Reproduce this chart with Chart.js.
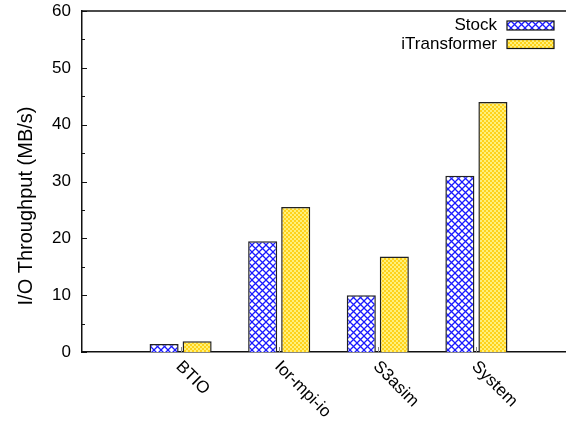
<!DOCTYPE html>
<html>
<head>
<meta charset="utf-8">
<script src="https://cdn.jsdelivr.net/npm/chart.js@4/dist/chart.umd.min.js"></script>
<style>
  html, body { margin: 0; padding: 0; background: #fff; overflow: hidden; width: 566px; height: 422px; }
  #wrap { width: 590px; height: 422px; }
</style>
</head>
<body>
<div id="wrap"><canvas id="c" width="590" height="422"></canvas></div>
<script>
// Benchmarks and measured throughput (MB/s)
const categories = ['BTIO', 'Ior-mpi-io', 'S3asim', 'System'];
const stockValues = [1.4, 19.5, 10.0, 31.0];
const itransformerValues = [1.9, 25.5, 16.8, 44.0];
const seriesNames = ['Stock', 'iTransformer'];
const yTicks = [0, 10, 20, 30, 40, 50, 60];
const yTitle = 'I/O Throughput (MB/s)';

const FAMILY = '"Liberation Sans", Arial, sans-serif';
const FONT = '17px ' + FAMILY;

// Blue cross-hatch fill
function crossHatch() {
  const t = document.createElement('canvas');
  t.width = 7; t.height = 7;
  const g = t.getContext('2d');
  g.fillStyle = '#ffffff';
  g.fillRect(0, 0, 7, 7);
  g.strokeStyle = '#1a1aff';
  g.lineWidth = 1.3;
  g.beginPath();
  g.moveTo(-1, -1); g.lineTo(8, 8);
  g.moveTo(8, -1); g.lineTo(-1, 8);
  g.stroke();
  return g.createPattern(t, 'repeat');
}

// Fine yellow checkerboard fill
function checker() {
  const t = document.createElement('canvas');
  t.width = 4; t.height = 4;
  const g = t.getContext('2d');
  g.fillStyle = '#ffd21a';
  g.fillRect(0, 0, 4, 4);
  g.fillStyle = '#fff07a';
  g.fillRect(0, 0, 2, 2);
  g.fillRect(2, 2, 2, 2);
  return g.createPattern(t, 'repeat');
}

const fills = [crossHatch(), checker()];

const toPoints = vals => vals.map((v, i) => ({ x: i, y: v }));

// Frame, inner ticks, rotated category labels, axis title and legend
const decorations = {
  id: 'decorations',
  afterDraw(chart) {
    const { ctx, chartArea: a, scales } = chart;
    const x = scales.x, y = scales.y;
    ctx.save();

    // top and right sides of the box
    ctx.strokeStyle = '#111';
    ctx.lineWidth = 1.5;
    ctx.beginPath();
    ctx.moveTo(a.left, a.top); ctx.lineTo(a.right, a.top); ctx.lineTo(a.right, a.bottom);
    ctx.stroke();

    // inward y ticks (major every 10, minor every 5)
    ctx.lineWidth = 1;
    for (let v = 0; v <= 60; v += 5) {
      const py = Math.round(y.getPixelForValue(v)) + 0.5;
      const len = v % 10 === 0 ? 5 : 3;
      ctx.beginPath();
      ctx.moveTo(a.left, py); ctx.lineTo(a.left + len, py);
      ctx.moveTo(a.right, py); ctx.lineTo(a.right - len, py);
      ctx.stroke();
    }

    // small category ticks on the baseline
    ctx.strokeStyle = '#888';
    categories.forEach((c, i) => {
      const px = Math.round(x.getPixelForValue(i)) + 0.5;
      ctx.beginPath();
      ctx.moveTo(px, a.bottom); ctx.lineTo(px, a.bottom - 5);
      ctx.stroke();
    });

    // rotated category labels
    ctx.fillStyle = '#000';
    ctx.font = FONT;
    ctx.textAlign = 'left';
    ctx.textBaseline = 'middle';
    categories.forEach((c, i) => {
      const px = x.getPixelForValue(i);
      ctx.save();
      ctx.translate(px - 2, a.bottom + 12);
      ctx.rotate(Math.PI / 4);
      ctx.fillText(c, 0, 0);
      ctx.restore();
    });

    // y axis title
    ctx.save();
    ctx.font = '20px ' + FAMILY;
    ctx.translate(26, 206);
    ctx.rotate(-Math.PI / 2);
    ctx.textAlign = 'center';
    ctx.fillText(yTitle, 0, 0);
    ctx.restore();

    // legend: text right-aligned, swatch on the right
    ctx.font = FONT;
    const rows = [25.5, 44];
    seriesNames.forEach((name, i) => {
      const cy = rows[i];
      ctx.textAlign = 'right';
      ctx.fillStyle = '#000';
      ctx.fillText(name, 497, cy);
      ctx.fillStyle = fills[i];
      ctx.fillRect(507, cy - 4.5, 47, 9);
      ctx.strokeStyle = '#111';
      ctx.lineWidth = 1.2;
      ctx.strokeRect(507, cy - 4.5, 47, 9);
    });

    ctx.restore();
  }
};

new Chart(document.getElementById('c'), {
  type: 'bar',
  data: {
    datasets: [
      { label: seriesNames[0], data: toPoints(stockValues), backgroundColor: fills[0],
        borderColor: '#222', borderWidth: 1.5 },
      { label: seriesNames[1], data: toPoints(itransformerValues), backgroundColor: fills[1],
        borderColor: '#222', borderWidth: 1.5 }
    ]
  },
  options: {
    responsive: false,
    animation: false,
    events: [],
    layout: { padding: { left: 0, top: 11, right: 15, bottom: 0 } },
    datasets: { bar: { categoryPercentage: 0.67, barPercentage: 0.88 } },
    plugins: { legend: { display: false }, tooltip: { enabled: false } },
    scales: {
      x: {
        type: 'linear', min: -1, max: 4, offset: false,
        afterBuildTicks(s) { s.ticks = [-1, 0, 1, 2, 3, 4].map(v => ({ value: v })); },
        grid: { display: false },
        border: { display: true, color: '#111', width: 1.5 },
        ticks: { display: false },
        afterFit(s) { s.height = 70; s.paddingLeft = 0; s.paddingRight = 0; }
      },
      y: {
        min: 0, max: 60,
        afterBuildTicks(s) { s.ticks = yTicks.map(v => ({ value: v })); },
        grid: { display: false, drawTicks: false },
        border: { display: true, color: '#111', width: 1.5 },
        ticks: { color: '#000', font: { family: FAMILY, size: 17 }, padding: 11 },
        afterFit(s) { s.width = 82; s.paddingTop = 0; s.paddingBottom = 0; }
      }
    }
  },
  plugins: [decorations]
});
</script>
</body>
</html>
